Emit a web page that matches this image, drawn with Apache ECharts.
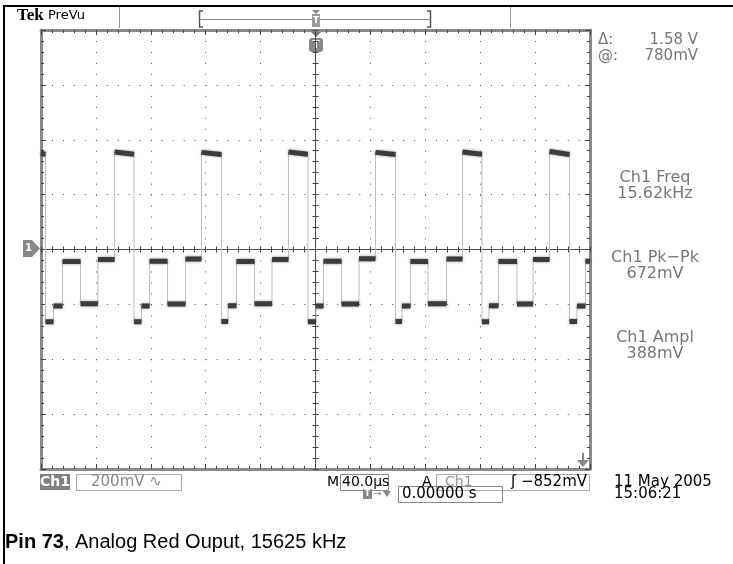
<!DOCTYPE html>
<html>
<head>
<meta charset="utf-8">
<script src="https://cdn.jsdelivr.net/npm/echarts@6/dist/echarts.min.js"></script>
<style>
  html, body { margin: 0; padding: 0; background: #fff; }
  #chart { width: 733px; height: 564px; }
</style>
</head>
<body>
<div id="chart"></div>
<script>
'use strict';

// edge times in µs, 0 = trigger (centre of screen), 40 µs/div
const edgeTimes = [
  -200, -196.7, -190.9, -184.3, -171.2, -158.5, -146.4, -132.2, -126.8, -120.9,
  -107.8, -94.7, -83.1, -68.5, -63.7, -57.6, -44.4, -31.7, -19.7, -5.5,
  0.3, 5.8, 19.0, 31.7, 43.7, 58.3, 63.0, 69.2, 82.0, 95.5,
  107.1, 121.3, 126.4, 133.3, 146.8, 158.5, 170.5, 185.1, 190.5, 196.7, 200
];
// level of each segment at its start and end, mV (200 mV/div)
const segStart = [
  350, -263, -206, -44, -198, -36,
  355, -263, -206, -43, -199, -35,
  354, -262, -205, -44, -198, -36,
  355, -263, -206, -43, -199, -34,
  354, -262, -206, -44, -198, -35,
  355, -263, -205, -44, -199, -36,
  357, -262, -206, -43
];
const segEnd = [
  347, -263, -206, -44, -198, -36,
  347, -263, -206, -43, -199, -35,
  346, -262, -205, -44, -198, -36,
  347, -263, -206, -43, -199, -34,
  346, -262, -206, -44, -198, -35,
  347, -263, -205, -44, -199, -36,
  346, -262, -206, -43
];

const tracePts = [];
const plateauPts = [];
for (let i = 0; i < segStart.length; i++) {
  tracePts.push([edgeTimes[i], segStart[i]], [edgeTimes[i + 1], segEnd[i]]);
  plateauPts.push([edgeTimes[i], segStart[i]], [edgeTimes[i + 1], segEnd[i]], [edgeTimes[i + 1], '-']);
}

const chart = echarts.init(document.getElementById('chart'));

const GRID = { left: 41, top: 30, width: 549, height: 439 };
const dotGap = GRID.height / 40 - 1;
const FONT = 'DejaVu Sans';
const GREY_TXT = '#777';

function centreAxis(pos, extra) {
  return Object.assign({
    type: 'value', position: pos,
    axisLine: { show: true, onZero: true, onZeroAxisIndex: 0, lineStyle: { color: '#444', width: 1, type: [1, 1] } },
    axisTick: { show: true, inside: true, length: 3, lineStyle: { color: '#444' } },
    minorTick: { show: true, splitNumber: 5, length: 3, lineStyle: { color: '#444' } },
    axisLabel: { show: false },
    splitLine: { show: false }
  }, extra);
}
function edgeAxis(pos, extra) {
  return Object.assign({
    type: 'value', position: pos,
    axisLine: { show: true, onZero: false, lineStyle: { color: '#8a8a8a', width: 3 } },
    axisTick: { show: true, inside: true, length: 5, lineStyle: { color: '#444' } },
    minorTick: { show: true, splitNumber: 5, length: 3, lineStyle: { color: '#444' } },
    axisLabel: { show: false },
    splitLine: { show: false }
  }, extra);
}

const xRange = { min: -200, max: 200, interval: 40 };
const yRange = { min: -800, max: 800, interval: 200 };

function txt(x, y, text, font, fill, align) {
  return {
    type: 'text', x: x, y: y, silent: true,
    style: { text: text, font: font, fill: fill || '#000', textAlign: align || 'left', textVerticalAlign: 'middle' }
  };
}
function box(x, y, w, h, fill, stroke) {
  return {
    type: 'rect', silent: true,
    shape: { x: x, y: y, width: w, height: h },
    style: { fill: fill || 'none', stroke: stroke || null, lineWidth: 1 }
  };
}

const option = {
  animation: false,
  backgroundColor: '#fff',
  grid: Object.assign({ show: false }, GRID),
  xAxis: [
    centreAxis('bottom', Object.assign({
      splitLine: { show: true, lineStyle: { color: '#555', width: 1, type: [1, dotGap] } }
    }, xRange)),
    centreAxis('top', Object.assign({}, xRange)),
    edgeAxis('bottom', Object.assign({}, xRange)),
    edgeAxis('top', Object.assign({}, xRange))
  ],
  yAxis: [
    centreAxis('left', Object.assign({
      splitLine: { show: true, lineStyle: { color: '#555', width: 1, type: [1, dotGap] } }
    }, yRange)),
    centreAxis('right', Object.assign({}, yRange)),
    edgeAxis('left', Object.assign({}, yRange)),
    edgeAxis('right', Object.assign({}, yRange))
  ],
  series: [
    {
      name: 'edges', type: 'line', xAxisIndex: 0, yAxisIndex: 0,
      data: tracePts, showSymbol: false, silent: true,
      lineStyle: { color: '#bdbdbd', width: 1 }
    },
    {
      name: 'ch1', type: 'line', xAxisIndex: 0, yAxisIndex: 0,
      data: plateauPts, showSymbol: false, silent: true, connectNulls: false,
      lineStyle: { color: '#3c3c3c', width: 5, cap: 'butt', shadowBlur: 3, shadowColor: 'rgba(0,0,0,0.45)' }
    }
  ],
  graphic: [
    // photo frame
    box(3, 5, 730, 2, '#000'),
    box(3, 5, 2, 559, '#000'),
    // header
    txt(17, 16, 'Tek', 'bold 17px "Liberation Serif"', '#000'),
    txt(48, 16, 'PreVu', '13px ' + FONT, '#000'),
    { type: 'line', silent: true, shape: { x1: 119.5, y1: 7, x2: 119.5, y2: 28 }, style: { stroke: '#999', lineWidth: 1 } },
    { type: 'line', silent: true, shape: { x1: 510.5, y1: 7, x2: 510.5, y2: 28 }, style: { stroke: '#999', lineWidth: 1 } },
    { type: 'polyline', silent: true, shape: { points: [[203, 11], [199.5, 11], [199.5, 27], [203, 27]] }, style: { stroke: '#555', lineWidth: 1.5, fill: 'none' } },
    { type: 'polyline', silent: true, shape: { points: [[427, 11], [430.5, 11], [430.5, 27], [427, 27]] }, style: { stroke: '#555', lineWidth: 1.5, fill: 'none' } },
    { type: 'line', silent: true, shape: { x1: 200, y1: 19.5, x2: 430, y2: 19.5 }, style: { stroke: '#888', lineWidth: 1 } },
    { type: 'polygon', silent: true, shape: { points: [[312, 10], [320, 10], [316, 14]] }, style: { fill: '#888' } },
    box(312, 14, 8, 13, '#999'),
    txt(316, 20.5, 'T', 'bold 9px ' + FONT, '#fff', 'center'),
    // trigger position marker
    { type: 'polygon', silent: true, shape: { points: [[310, 31], [322, 31], [316, 37]] }, style: { fill: '#777' } },
    { type: 'rect', silent: true, shape: { x: 309, y: 38, width: 14, height: 14, r: 3 }, style: { fill: '#888' } },
    txt(316, 45, 'T', 'bold 11px ' + FONT, '#fff', 'center'),
    // ground marker
    { type: 'polygon', silent: true, shape: { points: [[23, 240], [32, 240], [40, 248.5], [32, 257], [23, 257]] }, style: { fill: '#888' } },
    txt(28.5, 248.5, '1', 'bold 10px ' + FONT, '#fff', 'center'),
    // trigger level arrow
    { type: 'line', silent: true, shape: { x1: 583, y1: 453, x2: 583, y2: 462 }, style: { stroke: '#888', lineWidth: 2 } },
    { type: 'polygon', silent: true, shape: { points: [[577, 460], [589, 460], [583, 467]] }, style: { fill: '#888' } },
    // right readouts
    txt(598, 40, 'Δ:', '15px ' + FONT, GREY_TXT),
    txt(698, 40, '1.58 V', '15px ' + FONT, GREY_TXT, 'right'),
    txt(598, 56, '@:', '15px ' + FONT, GREY_TXT),
    txt(698, 56, '780mV', '15px ' + FONT, GREY_TXT, 'right'),
    txt(655, 178, 'Ch1 Freq', '16px ' + FONT, GREY_TXT, 'center'),
    txt(655, 194, '15.62kHz', '16px ' + FONT, GREY_TXT, 'center'),
    txt(655, 258, 'Ch1 Pk\u2212Pk', '16px ' + FONT, GREY_TXT, 'center'),
    txt(655, 274, '672mV', '16px ' + FONT, GREY_TXT, 'center'),
    txt(655, 338, 'Ch1 Ampl', '16px ' + FONT, GREY_TXT, 'center'),
    txt(655, 354, '388mV', '16px ' + FONT, GREY_TXT, 'center'),
    // bottom status line
    box(40, 474, 30, 16, '#808080'),
    txt(55, 482, 'Ch1', 'bold 14px ' + FONT, '#fff', 'center'),
    box(76.5, 474.5, 105, 16, null, '#aaa'),
    txt(91, 482.5, '200mV \u223F', '15px ' + FONT, '#888'),
    txt(327, 482.5, 'M', '14px ' + FONT, '#000'),
    box(340.5, 474.5, 48, 16, null, '#888'),
    txt(342, 482.5, '40.0µs', '14px ' + FONT, '#000'),
    txt(422, 482.5, 'A', '14px ' + FONT, '#000'),
    box(436.5, 474.5, 153, 16, null, '#aaa'),
    txt(445, 482.5, 'Ch1', '14px ' + FONT, '#999'),
    txt(587, 482.5, '\u0283 \u2212852mV', '15px ' + FONT, '#000', 'right'),
    txt(614, 482, '11 May 2005', '15px ' + FONT, '#000'),
    txt(614, 494, '15:06:21', '15px ' + FONT, '#000'),
    box(363, 489, 9, 10, '#888'),
    txt(367.5, 494, 'T', 'bold 8px ' + FONT, '#fff', 'center'),
    txt(373, 494, '\u2192', '10px ' + FONT, '#888'),
    { type: 'polygon', silent: true, shape: { points: [[383, 491], [391, 491], [387, 497]] }, style: { fill: '#888' } },
    box(398.5, 486.5, 104, 16, null, '#888'),
    txt(402, 494.5, '0.00000 s', '15px ' + FONT, '#000'),
    // caption
    {
      type: 'text', x: 5, y: 542, silent: true,
      style: {
        text: '{b|Pin 73}, Analog Red Ouput, 15625 kHz',
        font: '20px "Liberation Sans"', fill: '#000', textVerticalAlign: 'middle',
        rich: { b: { font: 'bold 20px "Liberation Sans"', fill: '#000' } }
      }
    }
  ]
};

chart.setOption(option);
</script>
</body>
</html>
